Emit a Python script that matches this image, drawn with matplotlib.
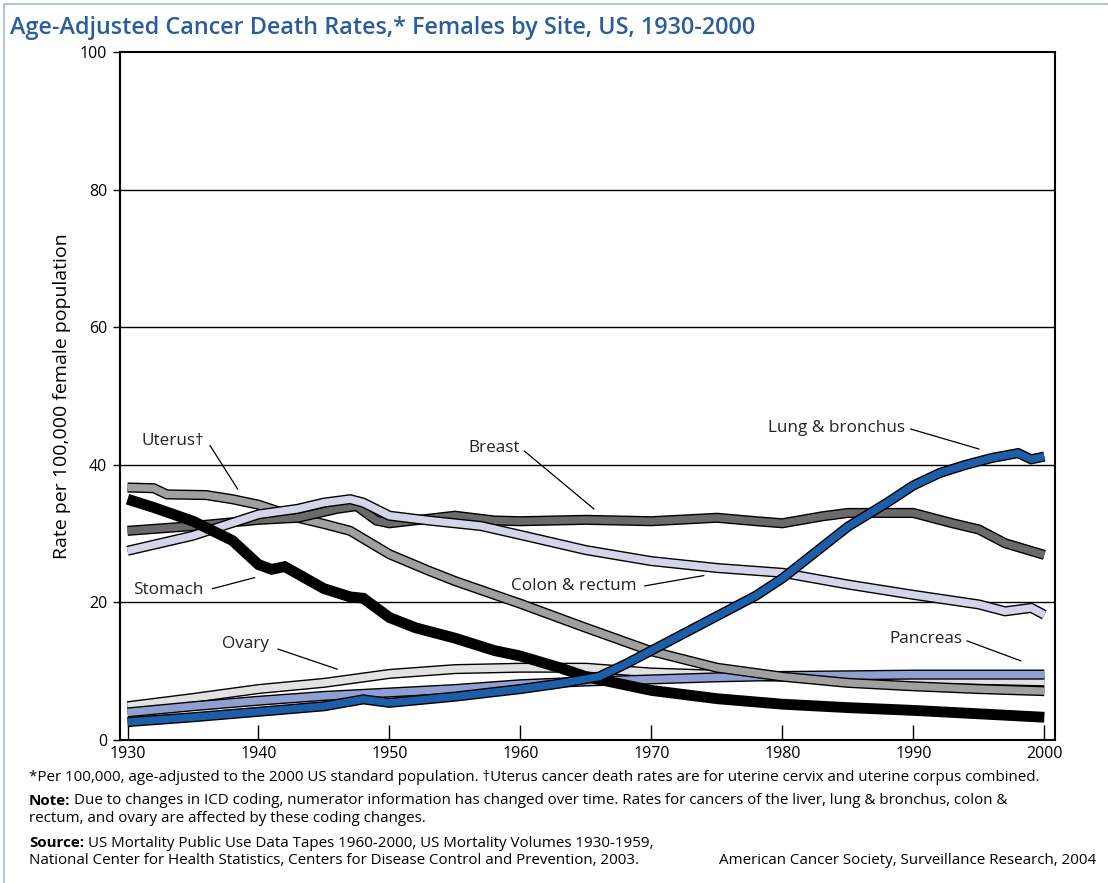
import matplotlib
matplotlib.use("Agg")
import matplotlib.pyplot as plt
import matplotlib.patheffects as pe
from matplotlib.patches import Rectangle

plt.rcParams["font.family"] = ["Open Sans", "DejaVu Sans"]

# ---- data ----
stomach_years = [1930, 1932, 1935, 1938, 1940, 1941, 1942, 1945, 1947, 1948, 1950, 1952,
                 1955, 1958, 1960, 1963, 1965, 1968, 1970, 1975, 1980, 1985, 1990, 1995, 2000]
stomach_rate = [35.0, 33.8, 31.8, 29.0, 25.5, 24.8, 25.2, 22.0, 20.8, 20.6, 17.8, 16.3,
                14.8, 13.0, 12.2, 10.5, 9.2, 8.0, 7.2, 6.0, 5.2, 4.7, 4.3, 3.8, 3.3]

uterus_years = [1930, 1932, 1933, 1936, 1938, 1940, 1943, 1945, 1947, 1950, 1953, 1955,
                1960, 1965, 1970, 1975, 1980, 1985, 1990, 1995, 2000]
uterus_rate = [36.7, 36.6, 35.7, 35.6, 35.0, 34.2, 32.3, 31.4, 30.4, 27.0, 24.6, 23.1,
               19.8, 16.3, 12.9, 10.5, 9.2, 8.3, 7.8, 7.4, 7.1]

breast_years = [1930, 1935, 1940, 1943, 1946, 1947.5, 1949, 1950, 1955, 1958, 1960, 1965,
                1970, 1975, 1978, 1980, 1983, 1985, 1990, 1993, 1995, 1997, 2000]
breast_rate = [30.4, 31.1, 32.0, 32.3, 33.6, 34.0, 31.9, 31.5, 32.6, 31.9, 31.8, 32.0,
               31.8, 32.3, 31.8, 31.5, 32.5, 33.0, 33.0, 31.5, 30.6, 28.6, 26.9]

colon_years = [1930, 1935, 1940, 1943, 1945, 1947, 1948, 1950, 1953, 1957, 1960, 1965,
               1970, 1975, 1980, 1985, 1990, 1995, 1997, 1999, 2000]
colon_rate = [27.5, 29.7, 32.8, 33.6, 34.5, 35.0, 34.5, 32.6, 31.9, 31.1, 29.8, 27.6,
              26.0, 25.0, 24.3, 22.6, 21.1, 19.7, 18.7, 19.2, 18.2]

lung_years = [1930, 1935, 1940, 1945, 1948, 1950, 1955, 1960, 1963, 1966, 1968, 1970,
              1972, 1975, 1978, 1980, 1983, 1985, 1988, 1990, 1992, 1994, 1996, 1998, 1999, 2000]
lung_rate = [2.6, 3.3, 4.1, 4.9, 5.9, 5.4, 6.3, 7.4, 8.2, 9.2, 11.0, 13.0,
             15.0, 18.0, 21.0, 23.5, 28.0, 31.0, 34.5, 37.0, 38.8, 40.0, 41.0, 41.7, 40.8, 41.2]

ovary_years = [1930, 1935, 1940, 1945, 1950, 1955, 1960, 1965, 1970, 1975, 1980, 1985,
               1990, 1995, 2000]
ovary_rate = [4.9, 6.1, 7.4, 8.3, 9.6, 10.3, 10.5, 10.5, 9.8, 9.5, 9.2, 9.0, 8.9, 8.7, 8.5]

pancreas_years = [1930, 1935, 1940, 1945, 1950, 1955, 1960, 1965, 1970, 1975, 1980, 1985,
                  1990, 1995, 2000]
pancreas_rate = [4.0, 4.9, 5.7, 6.4, 6.9, 7.4, 8.1, 8.5, 8.8, 9.1, 9.3, 9.4, 9.5, 9.5, 9.5]

# (label, text x, text y, leader start, leader end)
labels = [
    ("Uterus\u2020", 1931.1, 43.5, (1936.3, 42.8), (1938.4, 36.5)),
    ("Breast", 1956.0, 42.5, (1960.3, 42.0), (1965.6, 33.6)),
    ("Lung & bronchus", 1978.9, 45.4, (1989.8, 45.2), (1995.0, 42.3)),
    ("Stomach", 1930.4, 21.8, (1936.5, 22.0), (1939.7, 23.6)),
    ("Colon & rectum", 1959.3, 22.4, (1969.5, 22.4), (1974.0, 23.9)),
    ("Ovary", 1937.2, 14.0, (1941.5, 13.2), (1946.0, 10.3)),
    ("Pancreas", 1988.2, 14.7, (1994.1, 14.4), (1998.2, 11.5)),
]

x_ticks = [1930, 1940, 1950, 1960, 1970, 1980, 1990, 2000]
y_ticks = [0, 20, 40, 60, 80, 100]

fig = plt.figure(figsize=(11.08, 8.83), dpi=100)
ax = fig.add_axes([0.108, 0.162, 0.844, 0.779])

# thin frame around the whole graphic
fig.patches.append(Rectangle((0.004, -0.01), 1.2, 1.005, transform=fig.transFigure,
                             fill=False, edgecolor="#b9c3d3", linewidth=1.5))


def draw(years, rate, color, lw, z, edge=True):
    effects = [pe.Stroke(linewidth=lw + 2.0, foreground="black"), pe.Normal()] if edge else None
    ax.plot(years, rate, color=color, linewidth=lw, zorder=z,
            solid_joinstyle="miter", solid_capstyle="butt", path_effects=effects)


draw(ovary_years, ovary_rate, "#e2e2e2", 5.3, 3)
draw(pancreas_years, pancreas_rate, "#8f9fcf", 5.3, 4)
draw(uterus_years, uterus_rate, "#a0a0a0", 5.3, 5)
draw(breast_years, breast_rate, "#6a6a6a", 5.3, 6)
draw(colon_years, colon_rate, "#d4d4ea", 5.3, 7)
draw(stomach_years, stomach_rate, "black", 7.8, 8, edge=False)
draw(lung_years, lung_rate, "#1c5fa8", 5.3, 9)

for text, tx, ty, p0, p1 in labels:
    ax.text(tx, ty, text, fontsize=12.3, va="center", ha="left", color="#222222", zorder=10)
    ax.plot([p0[0], p1[0]], [p0[1], p1[1]], color="black", linewidth=0.9, zorder=10)

ax.set_xlim(1929.4, 2000.8)
ax.set_ylim(0, 100)
ax.set_xticks(x_ticks)
ax.set_yticks(y_ticks)
ax.tick_params(axis="x", direction="in", length=11, width=1, labelsize=11.5, pad=4)
ax.tick_params(axis="y", direction="out", length=5, width=1, labelsize=11.5, pad=4)
for g in y_ticks[1:-1]:
    ax.axhline(g, color="black", linewidth=1.0, zorder=1)
for s in ax.spines.values():
    s.set_linewidth(1.5)
ax.set_ylabel("Rate per 100,000 female population", fontsize=14, labelpad=6)

fig.text(0.009, 0.968, "Age-Adjusted Cancer Death Rates,* Females by Site, US, 1930-2000",
         fontsize=16.8, fontweight="semibold", color="#2a5d9c", va="center", ha="left")

fs = 10.9
renderer = fig.canvas.get_renderer()


def note(y, bold, rest):
    x = 0.026
    if bold:
        b = fig.text(x, y, bold, fontsize=fs, fontweight="bold", va="center")
        ext = b.get_window_extent(renderer=renderer)
        x = (ext.x1 + 4) / fig.bbox.width
    fig.text(x, y, rest, fontsize=fs, va="center")


note(0.120, None, "*Per 100,000, age-adjusted to the 2000 US standard population. "
     "\u2020Uterus cancer death rates are for uterine cervix and uterine corpus combined.")
note(0.093, "Note:", "Due to changes in ICD coding, numerator information has changed over time. "
     "Rates for cancers of the liver, lung & bronchus, colon &")
note(0.073, None, "rectum, and ovary are affected by these coding changes.")
note(0.045, "Source:", "US Mortality Public Use Data Tapes 1960-2000, US Mortality Volumes 1930-1959,")
note(0.025, None, "National Center for Health Statistics, Centers for Disease Control and Prevention, 2003.")
fig.text(0.989, 0.025, "American Cancer Society, Surveillance Research, 2004",
         fontsize=fs, va="center", ha="right")

fig.savefig("out.png", dpi=100)
